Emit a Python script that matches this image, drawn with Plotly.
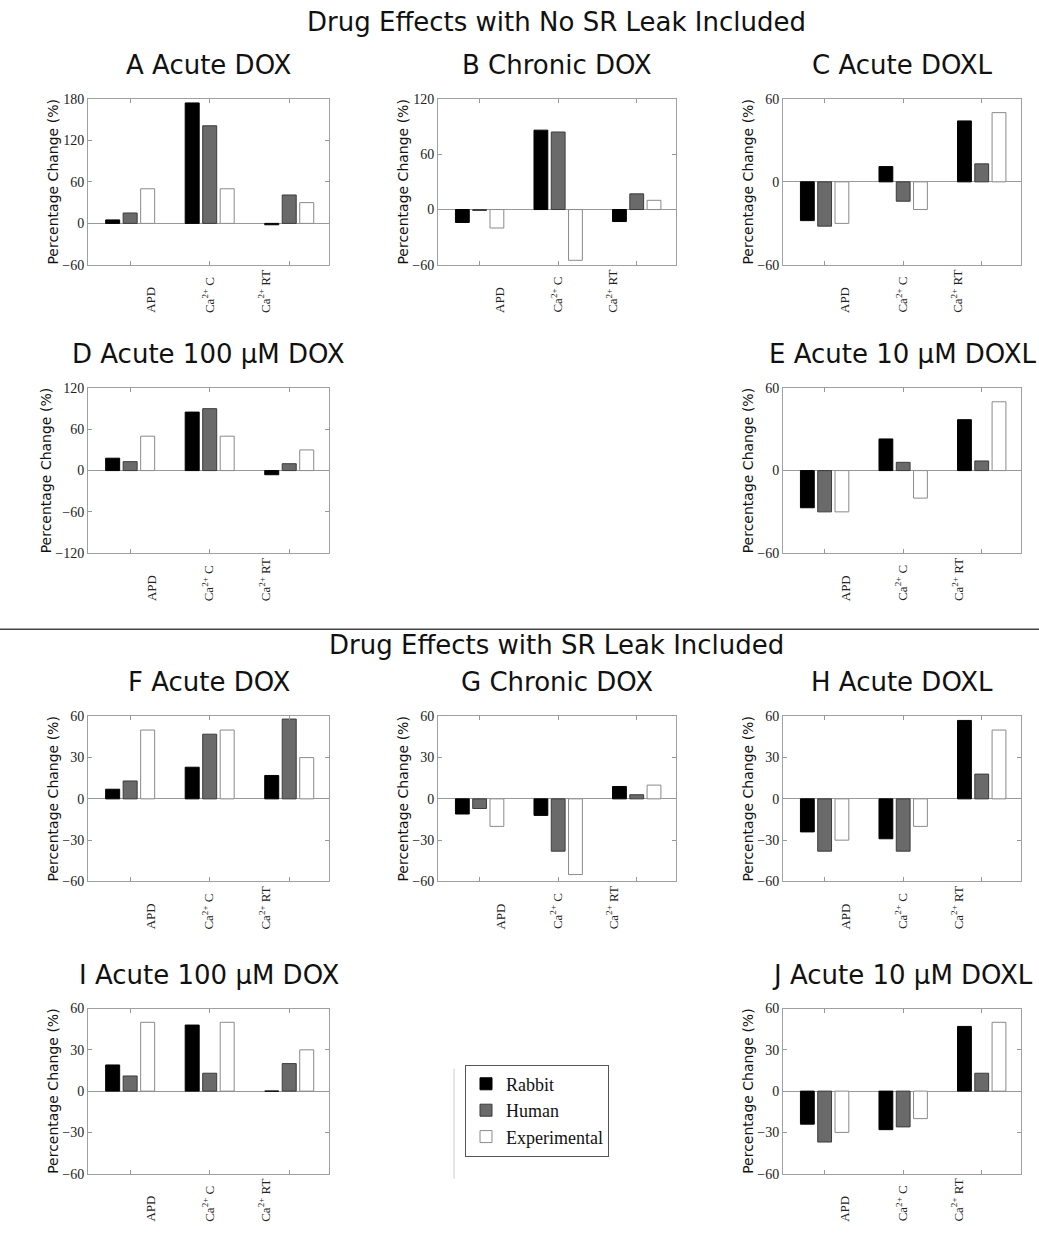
import plotly.graph_objects as go

# ---------------- data ----------------
categories = ["APD", "Ca<sup>2+</sup> C", "Ca<sup>2+</sup> RT"]
cat_pos = [1, 2, 3]
series_names = ["Rabbit", "Human", "Experimental"]

A_rabbit = [5, 174, -2];   A_human = [15, 141, 41];  A_exp = [50, 50, 30]
B_rabbit = [-14, 86, -13]; B_human = [-1, 84, 17];   B_exp = [-20, -55, 10]
C_rabbit = [-28, 11, 44];  C_human = [-32, -14, 13]; C_exp = [-30, -20, 50]
D_rabbit = [18, 85, -6];   D_human = [13, 90, 10];   D_exp = [50, 50, 30]
E_rabbit = [-27, 23, 37];  E_human = [-30, 6, 7];    E_exp = [-30, -20, 50]
F_rabbit = [7, 23, 17];    F_human = [13, 47, 58];   F_exp = [50, 50, 30]
G_rabbit = [-11, -12, 9];  G_human = [-7, -38, 3];   G_exp = [-20, -55, 10]
H_rabbit = [-24, -29, 57]; H_human = [-38, -38, 18]; H_exp = [-30, -20, 50]
I_rabbit = [19, 48, 0];    I_human = [11, 13, 20];   I_exp = [50, 50, 30]
J_rabbit = [-24, -28, 47]; J_human = [-37, -26, 13]; J_exp = [-30, -20, 50]

panel_titles = ["A Acute DOX", "B Chronic DOX", "C Acute DOXL",
                "D Acute 100 μM DOX", "E Acute 10 μM DOXL",
                "F Acute DOX", "G Chronic DOX", "H Acute DOXL",
                "I Acute 100 μM DOX", "J Acute 10 μM DOXL"]
panel_values = [(A_rabbit, A_human, A_exp), (B_rabbit, B_human, B_exp),
                (C_rabbit, C_human, C_exp), (D_rabbit, D_human, D_exp),
                (E_rabbit, E_human, E_exp), (F_rabbit, F_human, F_exp),
                (G_rabbit, G_human, G_exp), (H_rabbit, H_human, H_exp),
                (I_rabbit, I_human, I_exp), (J_rabbit, J_human, J_exp)]
y_ticks = [[-60, 0, 60, 120, 180], [-60, 0, 60, 120], [-60, 0, 60],
           [-120, -60, 0, 60, 120], [-60, 0, 60],
           [-60, -30, 0, 30, 60], [-60, -30, 0, 30, 60], [-60, -30, 0, 30, 60],
           [-60, -30, 0, 30, 60], [-60, -30, 0, 30, 60]]

# ---------------- layout helpers (pixels) ----------------
W, H = 1039, 1233
col_px = [(88, 329), (438, 676), (783, 1021)]
row_px = [(99, 265), (388, 553), (716, 881), (1008, 1173)]
panel_cells = [(0, 0), (0, 1), (0, 2), (1, 0), (1, 2),
               (2, 0), (2, 1), (2, 2), (3, 0), (3, 2)]
label_x = [1.26, 1.98, 2.69]   # where the rotated category labels sit


def px_x(p):
    return p / W


def px_y(p):
    # pixel row (from top) -> paper fraction, with a small correction
    return 1 - ((p - 7.3) / 0.987) / H


fills = ["#000000", "#6a6a6a", "#ffffff"]
edges = ["#000000", "#3c3c3c", "#8a8a8a"]

serif = "Liberation Serif, Times New Roman, serif"
sans = "DejaVu Sans, sans-serif"

fig = go.Figure()
annotations = []
layout_axes = {}

for i, (title, vals, ticks, (r, c)) in enumerate(zip(panel_titles, panel_values, y_ticks, panel_cells)):
    xa = "x" if i == 0 else f"x{i+1}"
    ya = "y" if i == 0 else f"y{i+1}"
    for s in range(3):
        fig.add_trace(go.Bar(
            x=cat_pos, y=vals[s], name=series_names[s],
            marker=dict(color=fills[s], line=dict(color=edges[s], width=1)),
            xaxis=xa, yaxis=ya, legendgroup=series_names[s],
            showlegend=(i == 0),
        ))
    x0, x1 = col_px[c]
    y0, y1 = row_px[r]
    layout_axes["xaxis" if i == 0 else f"xaxis{i+1}"] = dict(
        domain=[px_x(x0), px_x(x1)], anchor=ya, range=[0.47, 3.5],
        tickvals=cat_pos, ticktext=categories, showticklabels=False,
        ticks="inside", ticklen=4, tickcolor="#999999",
        showline=True, linecolor="#a0a0a0", linewidth=1, mirror="ticks",
        showgrid=False, zeroline=False, fixedrange=True,
    )
    layout_axes["yaxis" if i == 0 else f"yaxis{i+1}"] = dict(
        domain=[px_y(y1), px_y(y0)], anchor=xa,
        range=[ticks[0], ticks[-1]], tickvals=ticks,
        ticks="inside", ticklen=4, tickcolor="#999999",
        showline=True, linecolor="#a0a0a0", linewidth=1, mirror="ticks",
        showgrid=False, zeroline=True, zerolinecolor="#999999", zerolinewidth=1,
        tickfont=dict(family=serif, size=14, color="#222222"),
        title=dict(text="Percentage Change (%)", standoff=0,
                   font=dict(family=sans, size=14, color="#111111")),
        fixedrange=True,
    )
    # rotated category labels (bottom-aligned, as in the original)
    for k, lab in enumerate(categories):
        annotations.append(dict(
            text=lab, xref=xa, yref="paper", x=label_x[k], y=px_y(y1 + 50),
            xanchor="center", yanchor="bottom", textangle=-90, showarrow=False,
            font=dict(family=serif, size=13, color="#222222"),
        ))
    annotations.append(dict(
        text=title, xref="paper", yref="paper",
        x=px_x((x0 + x1) / 2), y=px_y(y0 - 34),
        xanchor="center", yanchor="middle", showarrow=False,
        font=dict(family=sans, size=26, color="#111111"),
    ))

annotations.append(dict(text="Drug Effects with No SR Leak Included", xref="paper", yref="paper",
                        x=px_x(556), y=px_y(22), xanchor="center", yanchor="middle",
                        showarrow=False, font=dict(family=sans, size=26, color="#111111")))
annotations.append(dict(text="Drug Effects with SR Leak Included", xref="paper", yref="paper",
                        x=px_x(556), y=px_y(645), xanchor="center", yanchor="middle",
                        showarrow=False, font=dict(family=sans, size=26, color="#111111")))

shapes = [
    dict(type="line", xref="paper", yref="paper", x0=0, x1=1,
         y0=px_y(629), y1=px_y(629), line=dict(color="#444444", width=1.5)),
    dict(type="line", xref="paper", yref="paper", x0=px_x(454), x1=px_x(454),
         y0=px_y(1068), y1=px_y(1178), line=dict(color="#cccccc", width=1)),
]

fig.update_layout(
    width=W, height=H, margin=dict(l=0, r=0, t=0, b=0),
    paper_bgcolor="white", plot_bgcolor="white",
    barmode="group", bargap=0.34, bargroupgap=0.2,
    annotations=annotations, shapes=shapes,
    legend=dict(x=px_x(465), y=px_y(1064), xanchor="left", yanchor="top",
                bordercolor="#555555", borderwidth=1, bgcolor="white",
                font=dict(family=serif, size=18, color="#111111"),
                tracegroupgap=0, itemclick=False, itemdoubleclick=False),
    **layout_axes,
)

fig.write_html("out.html", config={"displayModeBar": False},
               post_script="document.body.style.margin='0';document.body.style.overflow='hidden';")
